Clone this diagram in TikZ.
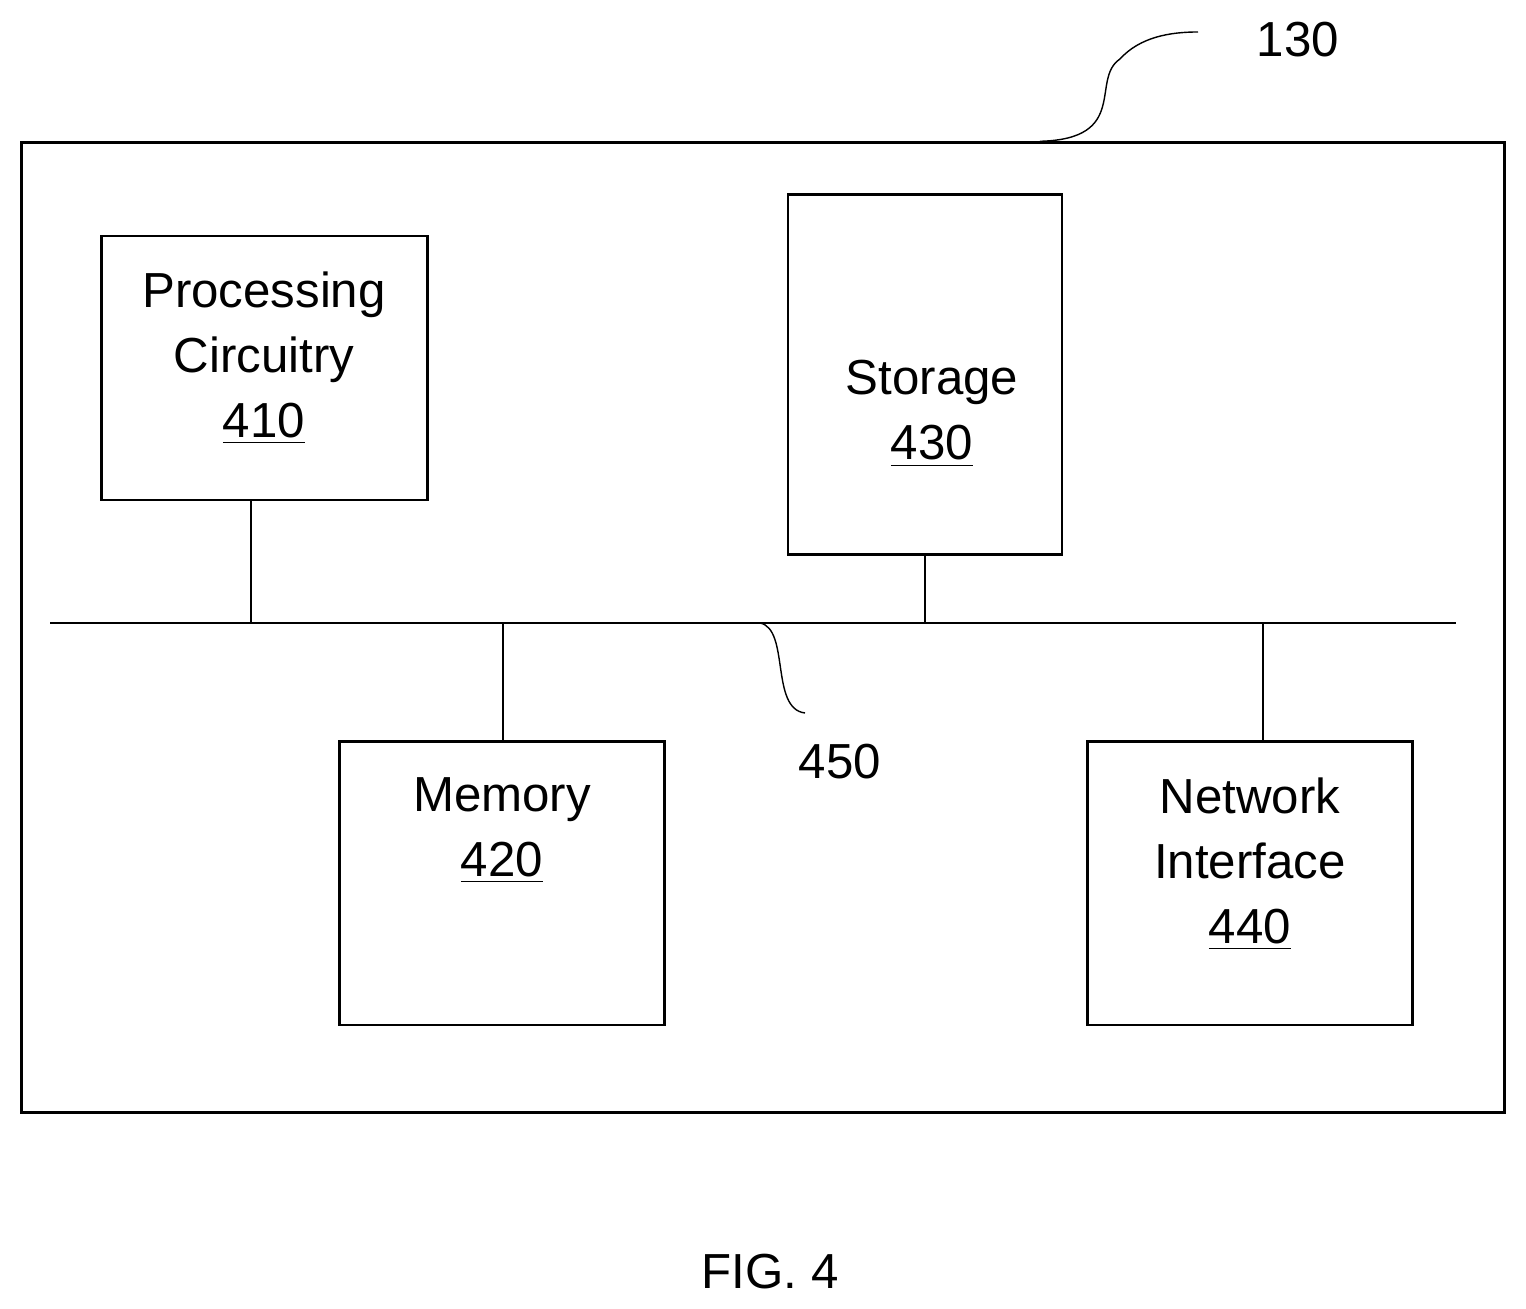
\documentclass[tikz,border=0pt]{standalone}
\usepackage{fontspec}
\setmainfont{Liberation Sans}
\usetikzlibrary{shapes.geometric}
\tikzset{
  unit/.style={draw, thick, minimum width=3.25cm, inner sep=0pt},
  lbl/.style={font=\fontsize{14pt}{18.5pt}\selectfont, align=center},
}
\begin{document}
\begin{tikzpicture}[x=0.01cm, y=0.01cm]
   \useasboundingbox (0,0) rectangle (1526,1309);
   \node[draw, thick, minimum width=14.82cm, minimum height=9.69cm] (dev) at (763,681.5) {};
   \node[unit, minimum height=2.64cm] (proc) at (264.5,941) {};
   \node[lbl, anchor=north] (proctxt) at (264,1050) {Processing\\Circuitry\\\underline{410}};
   \node[unit, minimum height=2.83cm] (mem) at (502,425.5) {};
   \node[lbl, anchor=north] (memtxt) at (502,544) {Memory\\\underline{420}};
   \node[unit, minimum height=2.83cm] (net) at (1250,425.5) {};
   \node[lbl, anchor=north] (nettxt) at (1250,544) {Network\\Interface\\\underline{440}};
   \node[cylinder, draw, thick, shape border rotate=90, aspect=1.2,
         minimum width=2.74cm, minimum height=3.6cm, inner sep=0pt] (stor) at (925,934) {};
   \node[lbl] (stortxt) at (932,895) {Storage\\\underline{430}};
   \coordinate (busw) at (50,686);
   \coordinate (buse) at (1456,686);
   \draw[thick] (busw) -- (buse);
   \draw[thick] (proc.south -| 251,0) -- (251,686);
   \draw[thick] (503,686) -- (mem.north -| 503,0);
   \draw[thick] (stor.south -| 925,0) -- (925,686);
   \draw[thick] (1263,686) -- (net.north -| 1263,0);
   \node[lbl] (bus) at (840,547) {450};
   \draw (760,686) .. controls (790,680) and (770,600) .. (805,596);
   \node[lbl] (top) at (1298,1269) {130};
   \draw (dev.north -| 1040,0) .. controls (1130,1170) and (1090,1230) .. (1120,1250)
         .. controls (1140,1272) and (1170,1277) .. (1198,1277);
   \node[lbl] (fig) at (770,37) {FIG. 4};
\end{tikzpicture}
\end{document}
